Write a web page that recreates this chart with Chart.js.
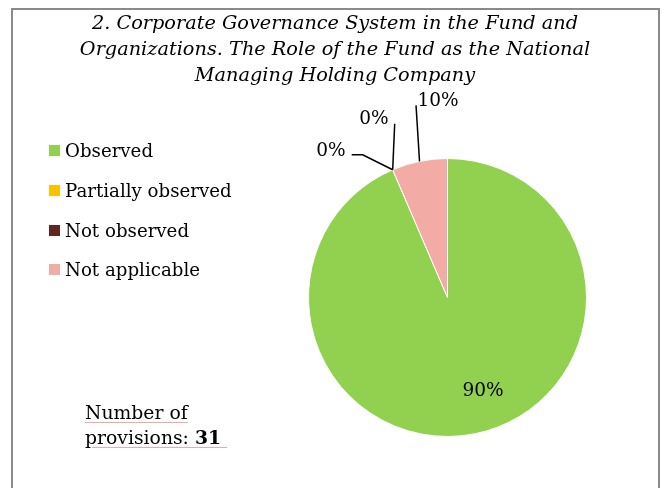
<!DOCTYPE html>
<html>
<head>
<meta charset="utf-8">
<script src="https://cdn.jsdelivr.net/npm/chart.js@4.4.1/dist/chart.umd.min.js"></script>
<style>
  html, body { margin: 0; padding: 0; background: #fff; }
  body { width: 665px; height: 488px; position: relative; overflow: hidden; font-family: "DejaVu Serif", Georgia, serif; color: #000; }
  #frame { position: absolute; left: 11px; top: 8px; width: 645px; height: 500px; border: 2px solid #8a8a8a; }
  #chart { position: absolute; left: 0; top: 0; }
  #title { position: absolute; left: 13px; width: 644px; top: 10px; text-align: center; font-style: italic; font-size: 19.3px; line-height: 26px; }
  #legend { position: absolute; left: 49px; top: 131px; font-size: 18.2px; }
  #legend .item { height: 39.7px; display: flex; align-items: center; }
  #legend .box { width: 11px; height: 11px; margin-right: 5px; }
  #note { position: absolute; left: 85px; top: 400px; font-size: 18.8px; line-height: 25px; }
  #note span { text-decoration: underline; text-decoration-color: #f3a6a6; text-underline-offset: 3px; }
</style>
</head>
<body>
<div id="frame"></div>
<canvas id="chart" width="665" height="488"></canvas>
<div id="title">2. Corporate Governance System in the Fund and<br>Organizations. The Role of the Fund as the National<br>Managing Holding Company</div>
<div id="legend"></div>
<div id="note"><span>Number of</span><br><span>provisions: <b>31</b>&nbsp;</span></div>
<script>
// provisions by status (31 in total)
const labels = ['Observed', 'Partially observed', 'Not observed', 'Not applicable'];
const provisions = [29, 0, 0, 2];
const percentLabels = ['90%', '0%', '0%', '10%'];
const colors = ['#92D050', '#FFC000', '#632523', '#F2ACA5'];

// label placement: inside the slice, or via a leader line from the slice edge
const labelStyle = [
    { inside: true, nudge: [16, -2] },
    { path: [[0, 0], [-30, -15], [-41, -15]], text: [-47, -19], align: 'right' },
    { path: [[0, 0], [2, -46]], text: [-4, -51], align: 'right' },
    { path: [[0, 0], [-3.5, -56]], text: [-2, -60], align: 'left' }
];

// html legend built from the same arrays
const legendEl = document.getElementById('legend');
labels.forEach((lab, i) => {
    const row = document.createElement('div');
    row.className = 'item';
    row.innerHTML = '<div class="box" style="background:' + colors[i] + '"></div><div>' + lab + '</div>';
    legendEl.appendChild(row);
});

const pieLabels = {
    id: 'pieLabels',
    afterDatasetsDraw(chart) {
        const ctx = chart.ctx;
        const meta = chart.getDatasetMeta(0);
        ctx.save();
        ctx.font = '18.5px "DejaVu Serif"';
        ctx.fillStyle = '#000';
        ctx.strokeStyle = '#000';
        ctx.lineWidth = 1.5;
        ctx.textBaseline = 'middle';
        meta.data.forEach((arc, i) => {
            const st = labelStyle[i];
            const mid = (arc.startAngle + arc.endAngle) / 2;
            if (st.inside) {
                const r = arc.outerRadius * 0.7;
                ctx.textAlign = 'center';
                ctx.fillText(percentLabels[i], arc.x + r * Math.cos(mid) + st.nudge[0], arc.y + r * Math.sin(mid) + st.nudge[1]);
                return;
            }
            const ax = arc.x + arc.outerRadius * Math.cos(mid);
            const ay = arc.y + arc.outerRadius * Math.sin(mid);
            ctx.beginPath();
            st.path.forEach((p, k) => {
                if (k === 0) ctx.moveTo(ax + p[0], ay + p[1]);
                else ctx.lineTo(ax + p[0], ay + p[1]);
            });
            ctx.stroke();
            ctx.textAlign = st.align;
            ctx.fillText(percentLabels[i], ax + st.text[0], ay + st.text[1]);
        });
        ctx.restore();
    }
};

new Chart(document.getElementById('chart').getContext('2d'), {
    type: 'pie',
    data: {
        labels: labels,
        datasets: [{
            data: provisions,
            backgroundColor: colors,
            borderColor: '#fff',
            borderWidth: 1
        }]
    },
    options: {
        responsive: false,
        animation: false,
        layout: { padding: { left: 308, right: 78, top: 158, bottom: 51 } },
        plugins: {
            legend: { display: false },
            tooltip: { enabled: false },
            title: { display: false }
        }
    },
    plugins: [pieLabels]
});
</script>
</body>
</html>
